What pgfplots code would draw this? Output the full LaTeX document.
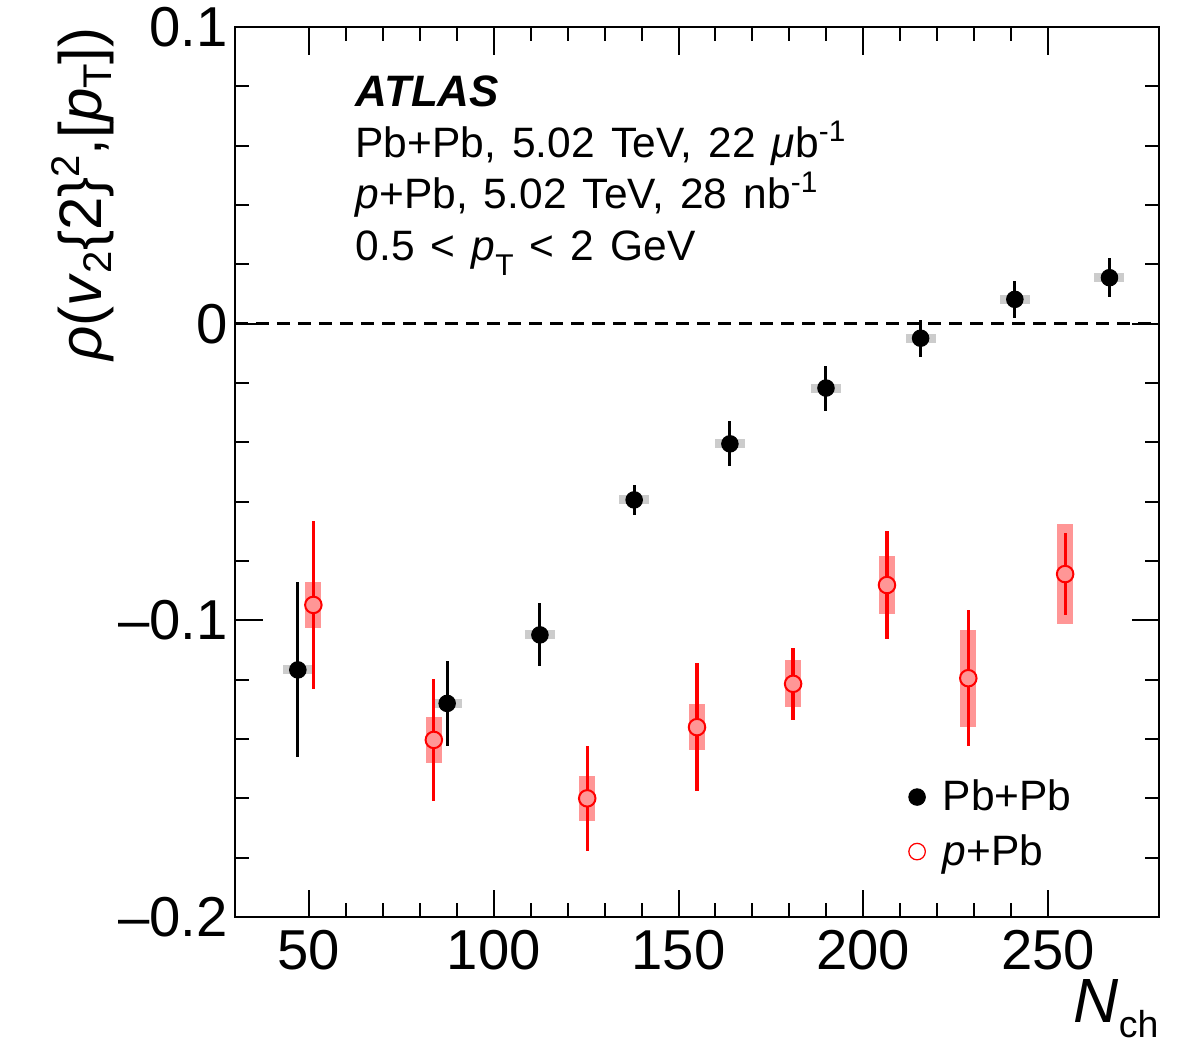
\documentclass[border=0pt]{standalone}
\usepackage{fontspec}
\setmainfont{Liberation Sans}
\usepackage{pgfplots}
\pgfplotsset{compat=1.18}
\usepackage{pgfplotstable}
\definecolor{sysgrey}{RGB}{204,204,204}
\definecolor{syspink}{RGB}{255,150,150}
\newcommand{\ws}{\spaceskip=0.38em\relax}

\pgfplotstableread{
x y stat sys
47.0 -0.1167 0.0295 0.0015
87.4 -0.1280 0.0144 0.0015
112.5 -0.1049 0.0106 0.0015
138.0 -0.0594 0.0050 0.0015
163.9 -0.0405 0.0076 0.0015
189.9 -0.0217 0.0076 0.0015
215.5 -0.0049 0.0062 0.0015
241.0 0.0082 0.0062 0.0015
266.6 0.0155 0.0066 0.0015
}\pbpb

\pgfplotstableread{
x y stat sys
51.2 -0.0948 0.0283 0.0077
83.8 -0.1403 0.0205 0.0077
125.3 -0.1600 0.0178 0.0077
155.0 -0.1360 0.0216 0.0078
181.0 -0.1214 0.0121 0.0079
206.4 -0.0881 0.0182 0.0099
228.4 -0.1195 0.0230 0.0163
254.6 -0.0844 0.0139 0.0168
}\ppb

\begin{document}
\begin{tikzpicture}
\useasboundingbox (-94pt,-56.8pt) rectangle (378.8pt,366.8pt);
\begin{axis}[
  at={(0,0)}, anchor=south west,
  scale only axis, width=369.6pt, height=356pt,
  xmin=30, xmax=280, ymin=-0.2, ymax=0.1,
  xtick={50,100,150,200,250},
  xticklabels={50,100,150,200,250},
  ytick={-0.2,-0.1,0,0.1},
  yticklabels={\textendash0.2,\textendash0.1,0,0.1},
  minor x tick num=4, minor y tick num=4,
  tick pos=both, ticklabel pos=left, tick align=inside,
  major tick length=11pt, minor tick length=5.5pt,
  axis line style={line width=0.8pt},
  every tick/.style={black, line width=0.8pt},
  /pgf/number format/assume math mode=true,
  xticklabel style={font=\fontsize{22.5}{27}\selectfont, inner sep=0pt, yshift=-5.2pt},
  yticklabel style={font=\fontsize{22.5}{27}\selectfont, inner sep=0pt, xshift=-2.8pt},
  xlabel={\textit{N}\raisebox{-6pt}{\fontsize{15}{15}\selectfont ch}},
  xlabel style={at={(axis description cs:1,-0.118)}, anchor=base east, inner sep=0pt, font=\fontsize{25}{30}\selectfont},
  ylabel={\textit{ρ}(\textit{v}\raisebox{-4pt}{\fontsize{16}{16}\selectfont 2}\{2\}\raisebox{9pt}{\fontsize{16}{16}\selectfont 2},[\textit{p}\raisebox{-4pt}{\fontsize{16}{16}\selectfont T}])},
  ylabel style={at={(axis description cs:-0.13,1)}, anchor=south east, inner sep=0pt, font=\fontsize{24}{29}\selectfont},
  legend style={draw=none, fill=none, at={(axis description cs:0.7206,0.166)}, anchor=north west,
    font=\fontsize{17}{20}\selectfont, row sep=4pt},
  legend cell align=left,
  legend image post style={xshift=-3pt},
]
% zero line
\addplot[forget plot, black, line width=1.35pt, dash pattern=on 5.2pt off 3.2pt] coordinates {(30,0) (280,0)};

% Pb+Pb systematic boxes
\addplot[forget plot, draw=none, mark=none,
  error bars/.cd, y dir=both, y explicit, error mark=none,
  error bar style={draw=sysgrey, solid, line width=12pt}]
  table[x=x, y=y, y error=sys] {\pbpb};
% Pb+Pb stat
\addplot[forget plot, draw=none, mark=none,
  error bars/.cd, y dir=both, y explicit, error mark=none,
  error bar style={draw=black, solid, line width=1.2pt}]
  table[x=x, y=y, y error=stat] {\pbpb};
\addplot[forget plot, only marks, mark=*, mark size=3.3pt, black] table[x=x, y=y] {\pbpb};

% p+Pb systematic boxes
\addplot[forget plot, draw=none, mark=none,
  error bars/.cd, y dir=both, y explicit, error mark=none,
  error bar style={draw=syspink, solid, line width=6.4pt}]
  table[x=x, y=y, y error=sys] {\ppb};
\addplot[forget plot, draw=none, mark=none,
  error bars/.cd, y dir=both, y explicit, error mark=none,
  error bar style={draw=red, solid, line width=1.3pt}]
  table[x=x, y=y, y error=stat] {\ppb};
\addplot[forget plot, only marks, mark=*, mark size=3.3pt, draw=red, fill=syspink, line width=0.8pt] table[x=x, y=y] {\ppb};

\addlegendimage{only marks, mark=*, mark size=3.3pt, black}
\addlegendimage{only marks, mark=o, mark size=3.3pt, red, line width=0.5pt}
\legend{\hspace*{5pt}Pb+Pb, \hspace*{5pt}\textit{p}+Pb}

\node[anchor=base west, inner sep=0pt, font=\fontsize{17.6}{20}\selectfont\bfseries\itshape] at (axis description cs:0.13,0.9104) {ATLAS};
\node[anchor=base west, inner sep=0pt, font=\fontsize{17}{20}\selectfont] at (axis description cs:0.13,0.8539) {\ws Pb+Pb, 5.02 TeV, 22 \textit{μ}b\textsuperscript{-1}};
\node[anchor=base west, inner sep=0pt, font=\fontsize{17}{20}\selectfont] at (axis description cs:0.13,0.7966) {\ws\textit{p}+Pb, 5.02 TeV, 28 nb\textsuperscript{-1}};
\node[anchor=base west, inner sep=0pt, font=\fontsize{17}{20}\selectfont] at (axis description cs:0.13,0.7382) {\ws 0.5 < \textit{p}\raisebox{-6pt}{\fontsize{12}{12}\selectfont T} < 2 GeV};
\end{axis}
\end{tikzpicture}
\end{document}
